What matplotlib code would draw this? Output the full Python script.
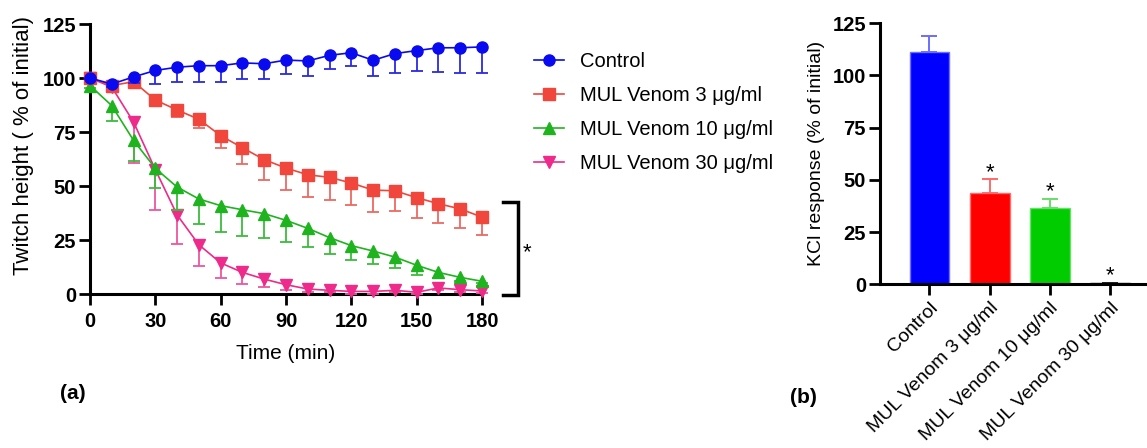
import matplotlib
matplotlib.use("Agg")
import matplotlib.pyplot as plt
from matplotlib.lines import Line2D
import numpy as np

plt.rcParams['font.family'] = ['Liberation Sans', 'DejaVu Sans']

# ---------------- data ----------------
time_min = [0, 10, 20, 30, 40, 50, 60, 70, 80, 90, 100, 110, 120, 130, 140, 150, 160, 170, 180]

control = [100, 97.2, 100.5, 103.5, 105, 105.7, 105.7, 107, 106.6, 108.3, 107.9, 110.5, 111.7, 108.2, 111.3, 112.7, 114, 114, 114.4]
control_err = [0.5, 1.5, 3, 6.5, 7, 7.4, 7.4, 7.5, 7, 6.3, 6.9, 6.5, 6.1, 7.2, 8.8, 9.3, 11, 11.5, 11.9]

venom3 = [100, 96.5, 98.3, 89.8, 85.2, 80.9, 73.3, 67.7, 62.2, 58.3, 55.2, 54, 51.4, 48.1, 47.8, 44.6, 41.8, 39.4, 35.6]
venom3_err = [0.5, 1.5, 2, 1, 3.4, 4.2, 5.9, 7.5, 9.3, 10, 10.5, 10.3, 10.3, 10, 9.2, 9.4, 9.1, 8.8, 8.4]

venom10 = [96.5, 87.2, 71.1, 58.2, 49.5, 44, 40.9, 39, 37.2, 34.1, 30.4, 26.1, 22.4, 19.9, 17.1, 13.3, 10, 7.7, 5.9]
venom10_err = [1, 7, 9.4, 9.2, 10.8, 11.4, 12.4, 12.3, 11.4, 10.2, 8.6, 7.4, 6.5, 6, 5.2, 4.7, 2.5, 1.5, 1]

venom30 = [100, 95.8, 79.6, 57.6, 36.6, 22.8, 14.4, 10, 6.9, 4.3, 2.3, 1.7, 1.2, 1.2, 1.7, 0.8, 2.8, 2, 1.4]
venom30_err = [0.5, 2, 19, 18.6, 13.3, 10, 7, 5.2, 3.7, 2.5, 1.2, 1, 1, 1, 1, 0.8, 1, 1, 1]

series_labels = ['Control', 'MUL Venom 3 \u03bcg/ml', 'MUL Venom 10 \u03bcg/ml', 'MUL Venom 30 \u03bcg/ml']

bar_categories = ['Control', 'MUL Venom 3 \u03bcg/ml', 'MUL Venom 10 \u03bcg/ml', 'MUL Venom 30 \u03bcg/ml']
bar_values = [111.4, 43.6, 36.4, 0.5]
bar_err = [7.5, 6.7, 4.6, 0.2]
bar_sig = ['', '*', '*', '*']

# ---------------- style ----------------
line_colors = ['#0a0af0', '#f0463c', '#1fb41f', '#ee2a8a']
err_colors = ['#2a2ae0', '#ea6a62', '#3cbc3c', '#ee55a0']
markers = ['o', 's', '^', 'v']
bar_colors = ['#0000ff', '#ff0000', '#00cc00', '#e0208a']
bar_edges = ['#6c6cff', '#ff6a6a', '#66e066', '#222222']

W, H = 1147, 448
fig = plt.figure(figsize=(W / 100, H / 100), dpi=100)

# ---------------- panel (a) ----------------
axa = fig.add_axes([90 / W, 1 - 294 / H, (482 - 90) / W, (294 - 24) / H])
all_y = [control, venom3, venom10, venom30]
all_e = [control_err, venom3_err, venom10_err, venom30_err]
t = np.array(time_min)
for i, (y, e) in enumerate(zip(all_y, all_e)):
    y = np.array(y)
    e = np.array(e)
    z = 10 - i * 2
    axa.vlines(t, y - e, y, color=err_colors[i], lw=1.3, zorder=z - 0.5, clip_on=False)
    axa.plot(t, y - e, ls='none', marker='_', ms=9, mew=1.3, color=err_colors[i],
             zorder=z - 0.5, clip_on=False)
    axa.plot(t, y, color=line_colors[i], lw=1.2, marker=markers[i], ms=8,
             mec=line_colors[i], mfc=line_colors[i], zorder=z, clip_on=False)

axa.set_xlim(0, 180)
axa.set_ylim(0, 125)
axa.set_xticks([0, 30, 60, 90, 120, 150, 180])
axa.set_yticks([0, 25, 50, 75, 100, 125])
for s in ['top', 'right']:
    axa.spines[s].set_visible(False)
for s in ['left', 'bottom']:
    axa.spines[s].set_linewidth(2.2)
axa.tick_params(width=2.0, length=8, labelsize=14.5)
axa.tick_params(axis='x', pad=5)
axa.tick_params(axis='y', pad=2)
for lab in axa.get_xticklabels() + axa.get_yticklabels():
    lab.set_fontweight('bold')
axa.set_xlabel('Time (min)', fontsize=15, labelpad=9)
axa.set_ylabel('Twitch height ( % of initial)', fontsize=16)
axa.yaxis.set_label_coords(-0.142, 0.55)

# significance bracket
axa.plot([189.6, 196.5, 196.5, 189.6], [42.7, 42.7, -0.6, -0.6], color='black', lw=2.5,
         clip_on=False, solid_joinstyle='miter')
axa.text(200.5, 19.3, '*', fontsize=16, ha='center', va='center', clip_on=False)

# legend
handles = [Line2D([0], [0], color=line_colors[i], lw=1.2, marker=markers[i], ms=8)
           for i in range(4)]
fig.legend(handles, series_labels, loc='upper left', bbox_to_anchor=(534 / W, 1 - 52 / H),
           frameon=False, fontsize=14.5, handlelength=1.5, handletextpad=0.8,
           labelspacing=0.75, borderpad=0, borderaxespad=0)

fig.text(60 / W, 1 - 393 / H, '(a)', fontsize=15, fontweight='bold', va='center', ha='left')

# ---------------- panel (b) ----------------
axb = fig.add_axes([880 / W, 1 - 284.3 / H, (W - 880) / W, (284.3 - 23.3) / H])
xpos = np.arange(len(bar_categories))
axb.bar(xpos, bar_values, width=0.66, color=bar_colors, edgecolor=bar_edges, lw=1.0, zorder=2)
for i in range(len(xpos)):
    axb.errorbar(xpos[i], bar_values[i], yerr=[[0], [bar_err[i]]], fmt='none',
                 ecolor=bar_edges[i] if i < 3 else '#222222', elinewidth=1.4,
                 capsize=6, capthick=1.4, zorder=1)
    if bar_sig[i]:
        axb.annotate(bar_sig[i], (xpos[i], bar_values[i] + bar_err[i]), xytext=(0, -2.5),
                     textcoords='offset points', ha='center', va='bottom', fontsize=16)
axb.set_xlim(-0.82, 3.61)
axb.set_ylim(0, 125)
axb.set_yticks([0, 25, 50, 75, 100, 125])
axb.set_xticks(xpos)
axb.set_xticklabels(bar_categories, rotation=45, ha='right', rotation_mode='anchor',
                    fontsize=14)
for s in ['top', 'right']:
    axb.spines[s].set_visible(False)
for s in ['left', 'bottom']:
    axb.spines[s].set_linewidth(2.2)
axb.tick_params(width=2.0, length=8, pad=3)
axb.tick_params(axis='y', labelsize=14.5, pad=2)
for lab in axb.get_yticklabels():
    lab.set_fontweight('bold')
axb.set_ylabel('KCl response (% of initial)', fontsize=14)
axb.yaxis.set_label_coords(-0.205, 0.5)

fig.text(790 / W, 1 - 397 / H, '(b)', fontsize=15, fontweight='bold', va='center', ha='left')

fig.savefig('out.png', dpi=100)
